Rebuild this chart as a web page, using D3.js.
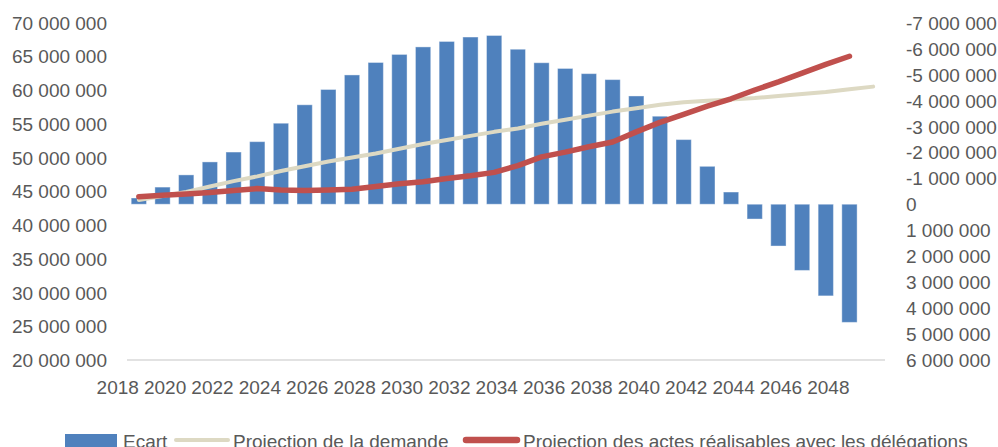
<!DOCTYPE html>
<html>
<head>
<meta charset="utf-8">
<script src="https://cdn.jsdelivr.net/npm/d3@7"></script>
<style>
  html, body { margin: 0; padding: 0; background: #fff; }
  svg { display: block; }
  text { font-family: "Liberation Sans", Arial, sans-serif; fill: #595959; }
</style>
</head>
<body>
<svg id="chart" width="998" height="447"></svg>
<script>
// Years on the category axis
const years = d3.range(2018, 2050);

// Gap between feasible acts and demand (secondary axis, reversed)
const ecart = [
  -240000, -660000, -1130000, -1630000, -2010000, -2410000, -3120000, -3830000,
  -4420000, -4980000, -5460000, -5770000, -6060000, -6270000, -6440000, -6500000,
  -5970000, -5450000, -5230000, -5030000, -4800000, -4170000, -3390000, -2490000,
  -1460000, -470000, 570000, 1610000, 2550000, 3530000, 4550000, null
];

// Projected demand (primary axis)
const demande = [
  43700000, 44300000, 44900000, 45700000, 46500000, 47200000, 48000000, 48700000,
  49400000, 50000000, 50600000, 51300000, 52000000, 52600000, 53200000, 53800000,
  54300000, 55000000, 55600000, 56200000, 56800000, 57300000, 57800000, 58200000,
  58400000, 58600000, 58800000, 59100000, 59400000, 59700000, 60100000, 60500000
];

// Projected feasible acts with delegations (primary axis)
const actes = [
  44200000, 44400000, 44600000, 44800000, 45100000, 45400000, 45200000, 45100000,
  45200000, 45300000, 45700000, 46100000, 46400000, 46900000, 47300000, 47800000,
  48800000, 50100000, 50800000, 51600000, 52300000, 53800000, 55200000, 56400000,
  57600000, 58700000, 60000000, 61200000, 62500000, 63800000, 65000000, null
];

const leftTicks = d3.range(20000000, 70000001, 5000000);
const rightTicks = d3.range(-7000000, 6000001, 1000000);
const xLabelYears = d3.range(2018, 2049, 2);

const legendLabels = ["Ecart", "Projection de la demande", "Projection des actes réalisables avec les délégations"];

const colors = { bar: "#4F81BD", demande: "#DDD9C3", actes: "#C0504D", axis: "#D9D9D9" };

// Space as thousands separator, plain hyphen for negatives
const fmt = v => d3.format(",")(v).replace(/,/g, " ").replace(/\u2212/g, "-");

const svg = d3.select("#chart");
const plot = { left: 127, right: 885, top: 22.5, bottom: 360 };

const x = d3.scaleBand()
  .domain(years)
  .range([plot.left, plot.right])
  .paddingInner(0.355)
  .paddingOuter(0.1775);
const xc = y => x(y) + x.bandwidth() / 2;

const yL = d3.scaleLinear().domain([20000000, 70000000]).range([plot.bottom, plot.top]);
const yR = d3.scaleLinear().domain([6000000, -7000000]).range([plot.bottom, plot.top]);

// Left axis labels
const leftAxis = svg.append("g")
  .attr("transform", `translate(107,0)`)
  .call(d3.axisLeft(yL).tickValues(leftTicks).tickFormat(fmt).tickSize(0).tickPadding(0));
leftAxis.select(".domain").remove();
leftAxis.selectAll("text").attr("font-size", 19).attr("dy", "0.35em")
  .style("font-family", "'Liberation Sans', Arial, sans-serif").attr("fill", "#595959");

// Right axis labels
const rightAxis = svg.append("g")
  .attr("transform", `translate(906,0)`)
  .call(d3.axisRight(yR).tickValues(rightTicks).tickFormat(fmt).tickSize(0).tickPadding(0));
rightAxis.select(".domain").remove();
rightAxis.selectAll("text").attr("font-size", 19).attr("dy", "0.35em")
  .style("font-family", "'Liberation Sans', Arial, sans-serif").attr("fill", "#595959");

// Bottom axis line
svg.append("line")
  .attr("x1", plot.left).attr("x2", plot.right)
  .attr("y1", plot.bottom).attr("y2", plot.bottom)
  .attr("stroke", colors.axis).attr("stroke-width", 1.5);

// Year labels
svg.append("g").selectAll("text")
  .data(xLabelYears)
  .join("text")
  .attr("x", d => xc(d))
  .attr("y", 394)
  .attr("text-anchor", "end")
  .attr("font-size", 19)
  .text(d => d);

// Gap bars
const bars = years.map((yr, i) => ({ yr, v: ecart[i] })).filter(d => d.v !== null);
svg.append("g").selectAll("rect")
  .data(bars)
  .join("rect")
  .attr("x", d => x(d.yr))
  .attr("width", x.bandwidth())
  .attr("y", d => Math.min(yR(d.v), yR(0)))
  .attr("height", d => Math.abs(yR(d.v) - yR(0)))
  .attr("fill", colors.bar)
  .attr("stroke", "rgba(255,255,255,0.4)")
  .attr("stroke-width", 1);

// Projection lines
const line = d3.line()
  .defined(d => d.v !== null)
  .x(d => xc(d.yr))
  .y(d => yL(d.v));

svg.append("path")
  .datum(years.map((yr, i) => ({ yr, v: demande[i] })))
  .attr("d", line)
  .attr("fill", "none")
  .attr("stroke", colors.demande)
  .attr("stroke-width", 4)
  .attr("stroke-linecap", "round")
  .attr("stroke-linejoin", "round");

svg.append("path")
  .datum(years.map((yr, i) => ({ yr, v: actes[i] })))
  .attr("d", line)
  .attr("fill", "none")
  .attr("stroke", colors.actes)
  .attr("stroke-width", 5.5)
  .attr("stroke-linecap", "round")
  .attr("stroke-linejoin", "round");

// Legend
const lg = svg.append("g");
lg.append("rect").attr("x", 65).attr("y", 434).attr("width", 52).attr("height", 14).attr("fill", colors.bar);
lg.append("text").attr("x", 123).attr("y", 447.5).attr("font-size", 19).text(legendLabels[0]);
lg.append("line").attr("x1", 176).attr("x2", 228).attr("y1", 440).attr("y2", 440)
  .attr("stroke", colors.demande).attr("stroke-width", 4).attr("stroke-linecap", "round");
lg.append("text").attr("x", 233).attr("y", 447.5).attr("font-size", 19).text(legendLabels[1]);
lg.append("line").attr("x1", 466).attr("x2", 517).attr("y1", 440).attr("y2", 440)
  .attr("stroke", colors.actes).attr("stroke-width", 6.5).attr("stroke-linecap", "round");
lg.append("text").attr("x", 523).attr("y", 447.5).attr("font-size", 19).text(legendLabels[2]);
</script>
</body>
</html>
